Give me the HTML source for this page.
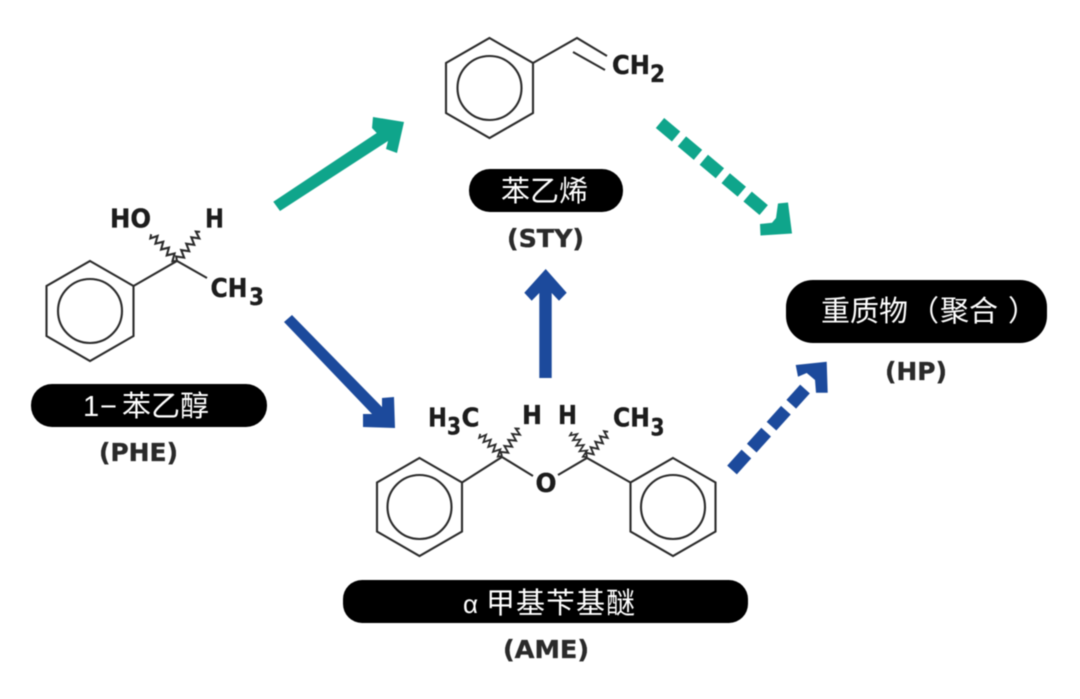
<!DOCTYPE html>
<html><head><meta charset="utf-8">
<style>
html,body{margin:0;padding:0;background:#fff;width:1080px;height:699px;overflow:hidden}
svg{display:block;filter:blur(.4px)}
.b{font-family:"DejaVu Sans","Liberation Sans",sans-serif;font-weight:700;font-size:26px;fill:#1c1c1c;stroke:#1c1c1c;stroke-width:.35}
.s{font-size:24px}
.l{font-size:25px;fill:#2a2a2a;stroke:#2a2a2a}
.c{font-family:"Liberation Sans","Noto Sans CJK SC",sans-serif;font-size:29px;fill:#fff}
.m{fill:none;stroke:#2b2b2b;stroke-width:2.1}
.z{fill:none;stroke:#2b2b2b;stroke-width:1.8;stroke-linejoin:miter}
</style></head><body>
<svg width="1080" height="699" viewBox="0 0 1080 699" xmlns="http://www.w3.org/2000/svg">
<rect width="1080" height="699" fill="#fff"/>

<!-- PHE molecule -->
<polygon class="m" points="90,261 133.5,286 133.5,336 90,361 46.5,336 46.5,286"/>
<circle class="m" cx="90" cy="311" r="32"/>
<polyline class="m" points="133.5,286 177,261 207,278"/>
<path class="z" transform="translate(177,261) rotate(-134) scale(1.2,1)" d="M0 0L2.5 -3.5L5.9 3.5L9.3 -3.5L12.7 3.5L16.1 -3.5L19.5 3.5L22.9 -3.5L26.3 3.5L29 -3.5L31 0"/>
<path class="z" transform="translate(177,261) rotate(-51.6) scale(1.2,1)" d="M0 0L2.5 -3.5L5.9 3.5L9.3 -3.5L12.7 3.5L16.1 -3.5L19.5 3.5L22.9 -3.5L26.3 3.5L29 -3.5L31 0"/>
<text class="b" x="110" y="227.5" textLength="41" lengthAdjust="spacingAndGlyphs">HO</text>
<text class="b" x="205" y="227.5" textLength="19" lengthAdjust="spacingAndGlyphs">H</text>
<text class="b" x="210.5" y="297" textLength="37" lengthAdjust="spacingAndGlyphs">CH</text>
<text class="b s" x="249" y="305" textLength="15" lengthAdjust="spacingAndGlyphs">3</text>
<rect x="31" y="384" width="236" height="43" rx="21" fill="#000"/>
<text class="c" x="83" y="416">1</text>
<text class="c" x="100" y="416">−</text>
<text class="c" x="122" y="416">苯乙醇</text>
<text class="b l" x="99" y="461" textLength="79" lengthAdjust="spacingAndGlyphs">(PHE)</text>

<!-- STY molecule -->
<polygon class="m" points="489.5,38 533,63 533,113 489.5,138 446,113 446,63"/>
<circle class="m" cx="489.5" cy="88" r="32"/>
<polyline class="m" points="533,63 577,38 607,56"/>
<line class="m" x1="573" y1="52" x2="605" y2="70"/>
<text class="b" x="612" y="74" textLength="38" lengthAdjust="spacingAndGlyphs">CH</text>
<text class="b s" x="650" y="82" textLength="15" lengthAdjust="spacingAndGlyphs">2</text>
<rect x="469" y="169" width="154" height="43" rx="21" fill="#000"/>
<text class="c" x="501" y="201">苯乙烯</text>
<text class="b l" x="507" y="247" textLength="77" lengthAdjust="spacingAndGlyphs">(STY)</text>

<!-- AME molecule -->
<polygon class="m" points="419.5,458 462,482.5 462,531.5 419.5,556 377,531.5 377,482.5"/>
<circle class="m" cx="419.5" cy="507" r="32"/>
<polygon class="m" points="673,458 715.5,482.5 715.5,531.5 673,556 630.5,531.5 630.5,482.5"/>
<circle class="m" cx="673" cy="507" r="32"/>
<polyline class="m" points="462,482.5 502,457 533,476"/>
<polyline class="m" points="558,475 587,458 630.5,482.5"/>
<path class="z" transform="translate(502,456) rotate(-134.5)" d="M0 0L2.5 -3.5L5.9 3.5L9.3 -3.5L12.7 3.5L16.1 -3.5L19.5 3.5L22.9 -3.5L26.3 3.5L29 -3.5L31 0"/>
<path class="z" transform="translate(502,456) rotate(-57) scale(1.05,1)" d="M0 0L2.5 -3.5L5.9 3.5L9.3 -3.5L12.7 3.5L16.1 -3.5L19.5 3.5L22.9 -3.5L26.3 3.5L29 -3.5L31 0"/>
<path class="z" transform="translate(587,457) rotate(-121) scale(.94,1)" d="M0 0L2.5 -3.5L5.9 3.5L9.3 -3.5L12.7 3.5L16.1 -3.5L19.5 3.5L22.9 -3.5L26.3 3.5L29 -3.5L31 0"/>
<path class="z" transform="translate(587,457) rotate(-50) scale(1.06,1)" d="M0 0L2.5 -3.5L5.9 3.5L9.3 -3.5L12.7 3.5L16.1 -3.5L19.5 3.5L22.9 -3.5L26.3 3.5L29 -3.5L31 0"/>
<text class="b" x="428" y="426.5" textLength="19" lengthAdjust="spacingAndGlyphs">H</text>
<text class="b s" x="447" y="434.5" textLength="14" lengthAdjust="spacingAndGlyphs">3</text>
<text class="b" x="461.5" y="426.5" textLength="18" lengthAdjust="spacingAndGlyphs">C</text>
<text class="b" x="522" y="424" textLength="20" lengthAdjust="spacingAndGlyphs">H</text>
<text class="b" x="558" y="424" textLength="19" lengthAdjust="spacingAndGlyphs">H</text>
<text class="b" x="613" y="426.5" textLength="37" lengthAdjust="spacingAndGlyphs">CH</text>
<text class="b s" x="650.5" y="435.5" textLength="14" lengthAdjust="spacingAndGlyphs">3</text>
<text class="b" x="535.5" y="492" textLength="21" lengthAdjust="spacingAndGlyphs">O</text>
<rect x="343" y="580" width="405" height="43" rx="19" fill="#000"/>
<text class="c" x="463" y="613" style="font-size:26px">α</text>
<text class="c" x="486" y="613" textLength="149">甲基苄基醚</text>
<text class="b l" x="503" y="658" textLength="86" lengthAdjust="spacingAndGlyphs">(AME)</text>

<!-- HP -->
<rect x="786" y="280" width="261" height="63" rx="27" fill="#000"/>
<text class="c" x="821" y="321">重质物</text>
<text class="c" x="910" y="321">（</text>
<text class="c" x="940" y="321">聚合</text>
<text class="c" x="1008" y="321">）</text>
<text class="b l" x="885" y="380" textLength="62" lengthAdjust="spacingAndGlyphs">(HP)</text>

<!-- arrows -->
<polygon fill="#0fa58b" points="273.3,201.7 376.7,133 372,128 373,117 404,122 397,153 386,149 388,141 280,211"/>
<polygon fill="#1c4a9c" points="284,322 292,315 382,407 382,398 394,397 395,428 363,427 363,414 372,414"/>
<polygon fill="#1c4a9c" points="545.7,269 566.7,292.7 559,300.7 551.7,293 551.7,378 539.3,378 539.3,293 531.7,300.7 524.3,292.7"/>
<line x1="660" y1="123" x2="766" y2="212" stroke="#0fa58b" stroke-width="13" stroke-dasharray="21 7.6"/>
<polygon fill="#0fa58b" points="778,203.5 788,202.5 792,233.5 760.5,235.5 760,224 772,222.7 776,218"/>
<line x1="732" y1="470" x2="805" y2="389" stroke="#1c4a9c" stroke-width="13" stroke-dasharray="21.5 8"/>
<polygon fill="#1c4a9c" points="795.7,365 826.7,361.7 827.7,392.7 816,392.7 815,380 806.7,373 798,376.7"/>
</svg>
</body></html>
